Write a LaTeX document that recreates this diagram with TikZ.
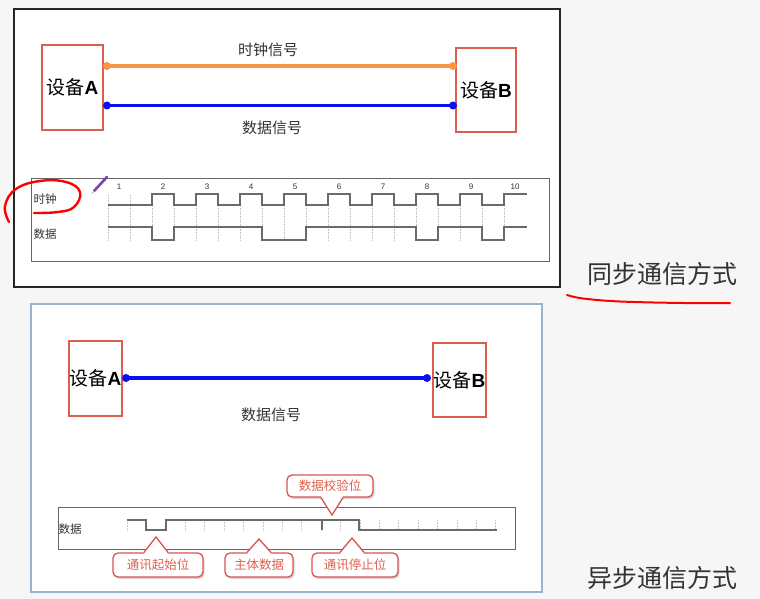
\documentclass[tikz,border=0pt]{standalone}
\usepackage{fontspec}
\setmainfont{Liberation Sans}
\newfontfamily\cjk{Noto Sans CJK SC}
\usetikzlibrary{shadows,calc}
\definecolor{boxred}{HTML}{D9604F}
\definecolor{clkorange}{HTML}{F79646}
\definecolor{datablue}{HTML}{0A10F0}
\definecolor{panelblue}{HTML}{9AB3D0}
\definecolor{callred}{HTML}{D9534F}
\definecolor{calltext}{HTML}{E0604E}
\definecolor{wavegray}{HTML}{6A6A6A}
\definecolor{bgc}{HTML}{F6F6F6}
\definecolor{txt}{HTML}{333333}
\definecolor{pen}{HTML}{7B48A8}
\begin{document}
\begin{tikzpicture}[x=1pt,y=-1pt,
  device/.style={draw=boxred, line width=1.3pt, fill=white, inner sep=0pt,
    font=\fontsize{19}{19}\selectfont},
  siglabel/.style={font=\cjk\fontsize{15}{15}\selectfont, text=txt, inner sep=0pt},
  wavelabel/.style={font=\cjk\fontsize{11.5}{11.5}\selectfont, text=txt, inner sep=0pt},
  numlabel/.style={font=\fontsize{8}{8}\selectfont, text=txt, inner sep=0pt},
  wave/.style={draw=wavegray, line width=1.1pt},
  guide/.style={draw=gray!45, line width=0.6pt, densely dotted},
  enddot/.style={circle, inner sep=0pt, minimum size=8pt},
  callbox/.style={rectangle, draw=callred, line width=1.3pt, fill=white,
    rounded corners=5pt, inner sep=0pt,
    minimum height=24pt, text=calltext, font=\cjk\fontsize{12.5}{12.5}\selectfont,
    drop shadow={shadow xshift=1.5pt, shadow yshift=-2pt, opacity=.3}},
  ptrfill/.style={fill=white},
  ptrline/.style={draw=callred, line width=1.3pt, line join=miter},
  title/.style={font=\cjk\fontsize{25}{25}\selectfont, text=txt, inner sep=0pt}
]
\fill[bgc] (0,0) rectangle (760,599);
\useasboundingbox (0,0) rectangle (760,599);

% ---------------- top panel: synchronous ----------------
\draw[black!85, line width=1.1pt, fill=white] (14,9) rectangle (560,287);

\node[device, minimum width=61pt, minimum height=85pt] (devA) at (72.5,87.5) {{\cjk 设备}\textbf{A}};
\node[device, minimum width=60pt, minimum height=84pt] (devB) at (486,90) {{\cjk 设备}\textbf{B}};

\coordinate (ca) at (107,66);
\coordinate (cb) at (453,66);
\coordinate (da) at (107,105.5);
\coordinate (db) at (453,105.5);
\draw[clkorange, line width=3.5pt] (ca) -- (cb);
\node[enddot, fill=clkorange] (cad) at (ca) {};
\node[enddot, fill=clkorange] (cbd) at (cb) {};
\draw[datablue, line width=3.5pt] (da) -- (db);
\node[enddot, fill=datablue] (dad) at (da) {};
\node[enddot, fill=datablue] (dbd) at (db) {};

\node[siglabel] (clklbl) at (268,50) {时钟信号};
\node[siglabel] (datlbl) at (272,128) {数据信号};

% timing diagram
\draw[gray!80!black, line width=1pt] (31,178) rectangle (549,261);
\node[wavelabel] (tclk) at (45,199) {时钟};
\node[wavelabel] (tdat) at (45,234) {数据};

\foreach \x in {108,130,152,174,196,218,240,262,284,306,328,350,372,394,416,438,460,482,504}
  \draw[guide] (\x,195) -- (\x,241);

\foreach \k in {1,...,10}
  \node[numlabel] (num\k) at ({119+44*(\k-1)},187) {\k};

\draw[wave] (108,205) -- (152,205)
  \foreach \k in {0,...,7} { -- ({152+44*\k},194) -- ({174+44*\k},194) -- ({174+44*\k},205) -- ({196+44*\k},205) }
  -- (504,194) -- (527,194);

\draw[wave] (108,227) -- (152,227) -- (152,240) -- (174,240) -- (174,227)
  -- (262,227) -- (262,240) -- (306,240) -- (306,227)
  -- (416,227) -- (416,240) -- (438,240) -- (438,227)
  -- (482,227) -- (482,240) -- (504,240) -- (504,227) -- (527,227);

% hand-drawn red loop and pen mark
\draw[red, line width=2.4pt, line cap=round] plot[smooth, tension=0.7] coordinates
  {(9,222) (5,206) (16,189) (40,181) (66,182) (80,192) (74,207) (58,212) (34,213)};
\draw[pen, line width=2.6pt, line cap=round] (94,191) -- (107,177);
\draw[pen!40, line width=1.2pt] (92,193.5) -- (94,191);

% title + underline
\node[title] (synctitle) at (662,274) {同步通信方式};
\draw[red, line width=2pt, line cap=round] plot[smooth, tension=0.6] coordinates
  {(567,295) (583,298.5) (620,301.5) (683,303) (730,303)};

% ---------------- bottom panel: asynchronous ----------------
\draw[panelblue, line width=1.3pt, fill=white] (31,304) rectangle (542,592);

\node[device, minimum width=53pt, minimum height=75pt] (devA2) at (95.5,378.5) {{\cjk 设备}\textbf{A}};
\node[device, minimum width=53pt, minimum height=74pt] (devB2) at (459.5,380) {{\cjk 设备}\textbf{B}};

\coordinate (ea) at (126,378);
\coordinate (eb) at (427,378);
\draw[datablue, line width=3.5pt] (ea) -- (eb);
\node[enddot, fill=datablue] (ead) at (ea) {};
\node[enddot, fill=datablue] (ebd) at (eb) {};
\node[siglabel] (datlbl2) at (271,415) {数据信号};

\draw[gray!80!black, line width=1pt] (58,507) rectangle (515,549);
\node[wavelabel] (adat) at (70,529) {数据};

\foreach \k in {0,...,19}
  \draw[guide] ({127+19.4*\k},520) -- ({127+19.4*\k},530);

\draw[wave] (127,520) -- (146,520) -- (146,530) -- (166,530) -- (166,520) -- (322,520) -- (322,530);
\draw[wave] (322,520) -- (359,520) -- (359,530) -- (497,530);

% callouts
\node[callbox, minimum width=86pt, minimum height=22pt] (parity) at (330,486) {数据校验位};
\node[callbox, minimum width=90pt] (startbit) at (158,565) {通讯起始位};
\node[callbox, minimum width=68pt] (body) at (259,565) {主体数据};
\node[callbox, minimum width=86pt] (stopbit) at (355,565) {通讯停止位};

\coordinate (tipP) at (332,515);
\coordinate (tipS) at (156,537);
\coordinate (tipB) at (259,539);
\coordinate (tipE) at (352,538);

% pointer of the parity callout (below the box)
\fill[ptrfill] ($(tipP |- parity.south)+(-11,-1.5)$) -- (tipP) -- ($(tipP |- parity.south)+(11,-1.5)$) -- cycle;
\draw[ptrline] ($(tipP |- parity.south)+(-11,0)$) -- (tipP) -- ($(tipP |- parity.south)+(11,0)$);
% pointers of the lower callouts (above the boxes)
\foreach \t/\b in {tipS/startbit, tipB/body, tipE/stopbit} {
  \fill[ptrfill] ($(\t |- \b.north)+(-12,1.5)$) -- (\t) -- ($(\t |- \b.north)+(12,1.5)$) -- cycle;
  \draw[ptrline] ($(\t |- \b.north)+(-12,0)$) -- (\t) -- ($(\t |- \b.north)+(12,0)$);
}

\node[title] (asynctitle) at (662,578) {异步通信方式};
\end{tikzpicture}
\end{document}
